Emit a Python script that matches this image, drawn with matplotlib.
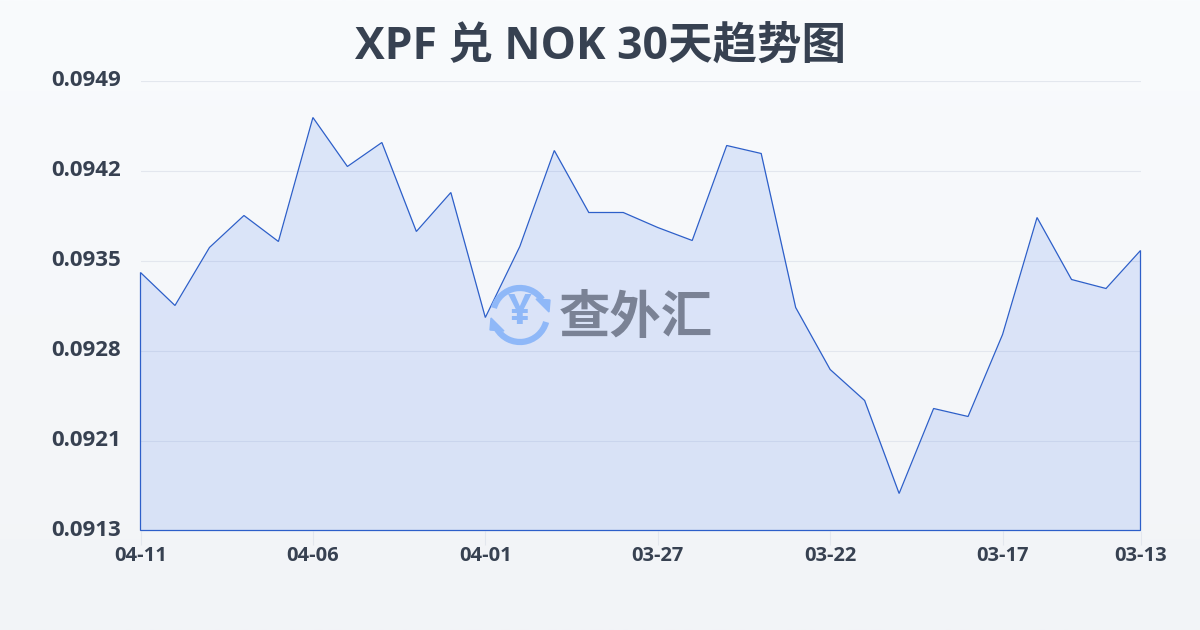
import matplotlib
matplotlib.use('Agg')
import matplotlib.pyplot as plt
from matplotlib.patches import Arc, Polygon
from matplotlib.transforms import ScaledTranslation
import numpy as np

plt.rcParams['font.family'] = ['Open Sans', 'Noto Sans CJK SC', 'DejaVu Sans']

title = 'XPF 兑 NOK 30天趋势图'
rates = [0.093364, 0.0931, 0.093564, 0.09382, 0.093612, 0.094604, 0.094212, 0.094404,
         0.093692, 0.094004, 0.093004, 0.093572, 0.09434, 0.093844, 0.093844, 0.093724,
         0.09362, 0.09438, 0.094316, 0.093084, 0.092588, 0.09234, 0.091596, 0.092276,
         0.092212, 0.092868, 0.093804, 0.093308, 0.093236, 0.09354]
x_labels = ['04-11', '04-06', '04-01', '03-27', '03-22', '03-17', '03-13']
x_ticks = [0, 5, 10, 15, 20, 25, 29]
y_labels = ['0.0913', '0.0921', '0.0928', '0.0935', '0.0942', '0.0949']
y_min = 0.0913
y_max = 0.0949

text_col = '#374151'
line_col = '#2d5fc9'

fig = plt.figure(figsize=(12, 6.3), dpi=100)

# page background
bg = fig.add_axes([0, 0, 1, 1], zorder=0)
bg.imshow(np.linspace(0, 1, 256).reshape(-1, 1), aspect='auto', extent=[0, 1200, 630, 0],
          cmap=matplotlib.colors.LinearSegmentedColormap.from_list('bg', ['#f9fbfd', '#f2f4f7']))
bg.axis('off')

ax = fig.add_axes([140.5 / 1200, 1 - 530.5 / 630, 1000 / 1200, 450 / 630], zorder=1)
ax.patch.set_alpha(0)
xs = np.arange(len(rates))
ax.set_xlim(0, len(rates) - 1)
ax.set_ylim(y_min, y_max)

y_ticks = np.linspace(y_min, y_max, len(y_labels))
ax.set_yticks(y_ticks, y_labels)
ax.set_xticks(x_ticks, x_labels)
ax.grid(axis='y', color='#e3e7ee', lw=0.8)
ax.set_axisbelow(True)
for s in ax.spines.values():
    s.set_visible(False)
ax.tick_params(axis='y', length=0, pad=14, labelsize=16, labelcolor=text_col)
ax.tick_params(axis='x', length=10, width=0.8, color='#e3e7ee', pad=1, labelsize=14.5, labelcolor=text_col)
for t in ax.get_xticklabels() + ax.get_yticklabels():
    t.set_fontweight('bold')
for t in ax.get_yticklabels():
    t.set_transform(t.get_transform() + ScaledTranslation(0, 2 / 100, fig.dpi_scale_trans))

# area
ax.fill_between(xs, rates, y_min, color='#2563eb', alpha=0.13, lw=0, zorder=2)
outline = Polygon(list(zip(xs, rates)) + [(xs[-1], y_min), (xs[0], y_min)], closed=True,
                  fill=False, edgecolor=line_col, lw=0.9, zorder=3, clip_on=False)
ax.add_patch(outline)

fig.text(600.5 / 1200, 1 - 47 / 630, title, ha='center', va='center', fontsize=32,
         fontweight='bold', color=text_col)

# watermark
wm = fig.add_axes([0, 0, 1, 1], zorder=2)
wm.set_xlim(0, 1200)
wm.set_ylim(630, 0)
wm.axis('off')
logo = '#8fb8f8'
wm.add_patch(Arc((520, 315), 54, 54, theta1=195, theta2=325, color=logo, lw=4.5))
wm.add_patch(Arc((520, 315), 54, 54, theta1=15, theta2=150, color=logo, lw=4.5))
wm.add_patch(Polygon([(550, 300), (536, 299), (549, 312)], color=logo))
wm.add_patch(Polygon([(490, 330), (504, 331), (491, 318)], color=logo))
wm.text(520, 314, '¥', ha='center', va='center', fontsize=30, fontweight='bold', color=logo)
wm.text(636, 320, '查外汇', ha='center', va='center', fontsize=37, fontweight='bold', color='#7a8295')

fig.savefig('out.png', dpi=100)
